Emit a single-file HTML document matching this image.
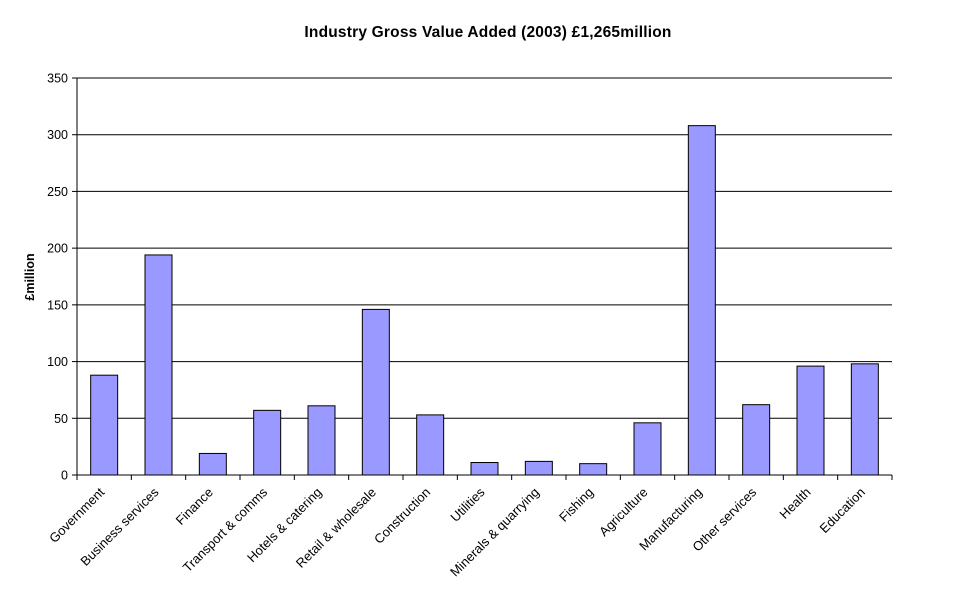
<!DOCTYPE html>
<html><head><meta charset="utf-8"><style>
body{margin:0;background:#fff;width:977px;height:600px;overflow:hidden}
svg{font-family:"Liberation Sans",Arial,sans-serif}
</style></head><body>
<svg id="chart" width="977" height="600" xmlns="http://www.w3.org/2000/svg">
<text x="488" y="37" text-anchor="middle" font-size="15.5" font-weight="bold" letter-spacing="0.2">Industry Gross Value Added (2003) £1,265million</text>
<text transform="translate(34,277) rotate(-90)" text-anchor="middle" font-size="12.5" font-weight="bold">£million</text>
<g id="grid"></g><g id="bars"></g><g id="axes"></g><g id="labels"></g>
</svg>
<script>
const categories=["Government","Business services","Finance","Transport & comms","Hotels & catering","Retail & wholesale","Construction","Utilities","Minerals & quarrying","Fishing","Agriculture","Manufacturing","Other services","Health","Education"];
const values=[88,194,19,57,61,146,53,11,12,10,46,308,62,96,98];
const yTicks=[0,50,100,150,200,250,300,350];
const NS="http://www.w3.org/2000/svg";
const L=77,R=892,T=78,B=475,YMAX=350;
const y=v=>B-(v/YMAX)*(B-T);
const bw=(R-L)/categories.length;
const x=i=>L+bw*i;
function mk(t,a,p){const e=document.createElementNS(NS,t);for(const k in a)e.setAttribute(k,a[k]);p.appendChild(e);return e;}
const grid=document.getElementById('grid'),bars=document.getElementById('bars'),axes=document.getElementById('axes'),labels=document.getElementById('labels');
yTicks.forEach(v=>{
 if(v>0){const g=mk('line',{x1:L,x2:R,y1:y(v),y2:y(v),stroke:'#000','stroke-width':1},grid);
 
 }
 const tk=mk('line',{x1:L-5,x2:L,y1:y(v),y2:y(v),stroke:'#000'},axes);
 
 
 const t=mk('text',{x:L-9,y:y(v)+4.5,'text-anchor':'end','font-size':12.5},labels);t.textContent=v;
 
 
});
values.forEach((v,i)=>{
 const r=mk('rect',{x:x(i)+bw/2-13.5,y:y(v),width:27,height:B-y(v),fill:'#9999ff',stroke:'#000','stroke-width':1},bars);
 
 
});
for(let i=0;i<=categories.length;i++){
 const tk=mk('line',{x1:x(i),x2:x(i),y1:B,y2:B+5,stroke:'#000'},axes);
 
 
}
categories.forEach((c,i)=>{
 const cx=x(i)+bw/2+1,cy=B+18;
 const t=mk('text',{x:cx,y:cy,'text-anchor':'end','font-size':13,transform:`rotate(-45 ${cx} ${cy})`},labels);t.textContent=c;
 
 
});
const ya=mk('line',{x1:L,x2:L,y1:T,y2:B,stroke:'#000'},axes);


const xa=mk('line',{x1:L,x2:R,y1:B,y2:B,stroke:'#000'},axes);


</script>
</body></html>
